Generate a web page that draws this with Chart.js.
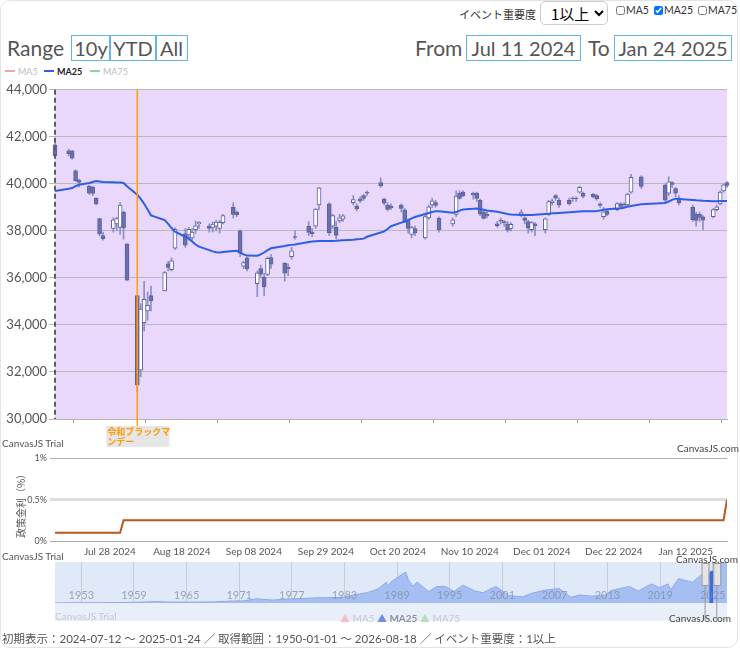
<!DOCTYPE html>
<html>
<head>
<meta charset="utf-8">
<script src="https://cdn.jsdelivr.net/npm/chart.js@4.4.1/dist/chart.umd.min.js"></script>
<style>
  body { margin: 0; background: #fff; font-family: Lato, "Noto Sans CJK JP", sans-serif; }
  #wrap { position: relative; width: 740px; height: 649px; overflow: hidden; }
  #frame { position: absolute; left: 0; top: 0; width: 736px; height: 646px; border: 1px solid #e4e4e4; border-radius: 10px; }
  .abs { position: absolute; white-space: nowrap; }
  .big { font-size: 21px; color: #555; line-height: 26px; }
  .btn { position: absolute; top: 35px; height: 24px; line-height: 24px; border: 1px solid #62b6ee; font-size: 20px; color: #555; text-align: center; }
  .cb { font-size: 10.5px; color: #333; top: 4px; }
  .cb input { width: 9px; height: 9px; margin: 0 1px 0 0; vertical-align: -1px; }
  .wm { font-size: 10px; color: #555; }
  .lg { font-size: 9px; top: 66px; }
  .lg i { display: inline-block; width: 10px; height: 2px; vertical-align: 3px; margin-right: 3px; }
  #mainBox { position: absolute; left: 0; top: 80px; width: 740px; height: 370px; }
  #rateBox { position: absolute; left: 0; top: 450px; width: 740px; height: 112px; }
  #navBox { position: absolute; left: 0; top: 562px; width: 740px; height: 59px; }
  select { position: absolute; left: 540px; top: 1px; width: 68px; height: 24px; font-size: 15px; border: 1px solid #ccc; border-radius: 5px; background: #fff; padding-left: 6px; font-family: "Noto Sans CJK JP", sans-serif; }
</style>
</head>
<body>
<div id="wrap">
  <div id="frame"></div>

  <div class="abs" style="left:459px;top:6px;font-size:11px;color:#333;">イベント重要度</div>
  <select><option>1以上</option></select>
  <label class="abs cb" style="left:616px;"><input type="checkbox">MA5</label>
  <label class="abs cb" style="left:654px;"><input type="checkbox" checked>MA25</label>
  <label class="abs cb" style="left:698px;"><input type="checkbox">MA75</label>

  <div class="abs big" style="left:7px;top:35px;">Range</div>
  <div class="btn" style="left:71px;width:38px;">10y</div>
  <div class="btn" style="left:109px;width:46px;">YTD</div>
  <div class="btn" style="left:155px;width:31px;">All</div>
  <div class="abs big" style="left:415px;top:35px;">From</div>
  <div class="btn" style="left:466px;width:113px;" id="fromBox"></div>
  <div class="abs big" style="left:588px;top:35px;">To</div>
  <div class="btn" style="left:614px;width:116px;" id="toBox"></div>

  <div class="abs lg" style="left:5px;color:#bbb;"><i style="background:#f3a3a8"></i>MA5</div>
  <div class="abs lg" style="left:44px;color:#222;font-weight:bold;"><i style="background:#2d5fe6"></i>MA25</div>
  <div class="abs lg" style="left:90px;color:#bbb;"><i style="background:#8fd0a6"></i>MA75</div>

  <div id="mainBox"><canvas id="mainChart"></canvas></div>
  <div id="rateBox"><canvas id="rateChart"></canvas></div>
  <div id="navBox"><canvas id="navChart"></canvas></div>

  <div class="abs" style="left:6px;top:470px;width:28px;height:70px;">
    <div style="position:absolute;left:-22px;top:26px;width:72px;transform:rotate(-90deg);font-size:10px;color:#555;text-align:center;font-family:'Noto Sans CJK JP';">政策金利（%）</div>
  </div>

  <div class="abs wm" style="left:2px;top:437px;">CanvasJS Trial</div>
  <div class="abs wm" style="left:677px;top:442px;color:#444;">CanvasJS.com</div>
  <div class="abs wm" style="left:2px;top:550px;">CanvasJS Trial</div>
  <div class="abs wm" style="left:676px;top:553px;color:#444;">CanvasJS.com</div>
  <div class="abs wm" style="left:55px;top:610px;color:#c3c9d4;">CanvasJS Trial</div>
  <div class="abs wm" style="left:669px;top:612px;color:#444;">CanvasJS.com</div>
  <div class="abs" style="left:340px;top:610px;font-size:10px;">
    <span style="color:#f2c1c8;">▲</span><span style="color:#c0c6d2;"> MA5 </span>
    <span style="color:#6b8fe2;"> ▲</span><span style="color:#8a90a0;font-weight:bold;"> MA25 </span>
    <span style="color:#b5dcc3;"> ▲</span><span style="color:#c0c6d2;"> MA75</span>
  </div>

  <div class="abs" style="left:2px;top:630px;font-size:11.5px;color:#555;" id="footer"></div>
</div>

<script>
// trading days shown (Nikkei 225)
const dates = [
  "2024-07-12","2024-07-16","2024-07-17","2024-07-18","2024-07-19","2024-07-22","2024-07-23","2024-07-24","2024-07-25","2024-07-26","2024-07-29","2024-07-30","2024-07-31",
  "2024-08-01","2024-08-02","2024-08-05","2024-08-06","2024-08-07","2024-08-08","2024-08-09","2024-08-13","2024-08-14","2024-08-15","2024-08-16","2024-08-19","2024-08-20","2024-08-21","2024-08-22","2024-08-23","2024-08-26","2024-08-27","2024-08-28","2024-08-29","2024-08-30",
  "2024-09-02","2024-09-03","2024-09-04","2024-09-05","2024-09-06","2024-09-09","2024-09-10","2024-09-11","2024-09-12","2024-09-13","2024-09-17","2024-09-18","2024-09-19","2024-09-20","2024-09-24","2024-09-25","2024-09-26","2024-09-27","2024-09-30",
  "2024-10-01","2024-10-02","2024-10-03","2024-10-04","2024-10-07","2024-10-08","2024-10-09","2024-10-10","2024-10-11","2024-10-15","2024-10-16","2024-10-17","2024-10-18","2024-10-21","2024-10-22","2024-10-23","2024-10-24","2024-10-25","2024-10-28","2024-10-29","2024-10-30","2024-10-31",
  "2024-11-01","2024-11-05","2024-11-06","2024-11-07","2024-11-08","2024-11-11","2024-11-12","2024-11-13","2024-11-14","2024-11-15","2024-11-18","2024-11-19","2024-11-20","2024-11-21","2024-11-22","2024-11-25","2024-11-26","2024-11-27","2024-11-28","2024-11-29",
  "2024-12-02","2024-12-03","2024-12-04","2024-12-05","2024-12-06","2024-12-09","2024-12-10","2024-12-11","2024-12-12","2024-12-13","2024-12-16","2024-12-17","2024-12-18","2024-12-19","2024-12-20","2024-12-23","2024-12-24","2024-12-25","2024-12-26","2024-12-27","2024-12-30",
  "2025-01-06","2025-01-07","2025-01-08","2025-01-09","2025-01-10","2025-01-14","2025-01-15","2025-01-16","2025-01-17","2025-01-20","2025-01-21","2025-01-22","2025-01-23","2025-01-24"
];
const open = [
  41660,41400,41400,40550,40150,39900,39850,39380,38520,37800,38100,38300,38150,
  38800,37450,35250,32080,34100,34600,35250,35450,36600,36350,37270,37870,37830,37700,38050,38300,38200,38150,38200,38100,38350,
  39000,38800,38000,36500,36850,35750,36400,36030,36150,36870,36630,36450,36900,37760,38200,37950,38200,39100,39150,
  38200,38150,38420,38500,39200,39060,39350,39500,39650,40050,39350,39100,39050,39100,38900,38450,37850,38100,37700,38550,39100,39200,
  38530,38300,38700,39600,39650,39600,39600,39300,38800,38700,38300,38450,38400,38300,38100,38700,38550,38400,38050,38300,
  38050,38700,39200,39500,39300,39300,39400,39400,39650,39600,39550,39500,39150,38600,38850,38900,39150,39050,39100,39650,40300,
  39950,39600,40050,39800,39400,39000,38700,38700,38600,38600,38900,39150,39700,40050
];
const high = [
  41740,41480,41420,40600,40200,39950,39900,39420,38530,37950,38560,38580,39200,
  38840,37450,35250,34900,35850,35400,35650,36280,36700,36850,38130,38100,38150,38100,38420,38400,38300,38380,38450,38450,38700,
  39200,38850,38050,36700,36900,36300,36550,36200,36900,37000,36650,36600,37300,38000,38390,38100,38950,39850,39200,
  38700,38400,38700,38700,39500,39150,39450,39550,39700,40250,39400,39200,39150,39150,38950,38500,38200,38200,38700,39100,39400,39300,
  38600,38550,39700,39700,39700,39650,39650,39350,38900,38850,38400,38550,38450,38400,38350,38900,38600,38450,38400,38350,
  38550,39300,39350,39550,39400,39400,39450,39450,39900,39650,39600,39550,39200,39000,38900,39200,39200,39200,39600,40400,40350,
  40000,40300,40100,39850,39500,39100,38800,38800,38650,38950,39100,39700,40000,40100
];
const low = [
  41100,41180,41050,40100,39870,39550,39500,39100,37800,37600,37950,38000,37850,
  37650,35880,31156,31800,33750,34200,34600,35450,36300,36300,37200,37300,37600,37600,37900,38100,37950,37950,38000,37900,38300,
  38550,38600,36900,36400,36300,35200,36000,35250,36100,36400,35860,36100,36800,37650,37800,37750,38100,38900,37800,
  38100,37660,38350,38400,39100,38850,39200,39300,39500,39850,39100,38850,38900,38800,38350,37900,37700,37800,37650,38500,39000,39000,
  37950,38200,38600,39350,39450,39350,39250,38650,38500,38550,38150,38300,38200,37950,38000,38600,38300,37900,37950,37800,
  37900,38650,39100,39300,39000,39100,39250,39250,39600,39400,39400,39300,39000,38500,38650,38850,38950,39000,39050,39600,39800,
  39200,39500,39850,39450,39100,38400,38200,38400,38050,38550,38850,39100,39650,39850
];
const close = [
  41190,41275,41097,40126,40063,39599,39594,39154,37869,37667,38468,38525,39101,
  38126,35909,31458,34675,35089,34831,35025,36232,36442,36726,38062,37388,38062,37951,38211,38364,38110,38288,38371,38362,38647,
  38700,38686,37047,36657,36391,36215,36159,35619,36833,36581,36203,36380,37155,37723,37940,37870,38925,39829,37919,
  38651,37808,38552,38635,39332,38937,39277,39380,39605,39910,39180,38911,38981,38954,38411,38104,38143,37913,38605,39027,39277,39081,
  38053,38474,39480,39381,39500,39533,39376,38721,38535,38642,38220,38414,38352,38026,38283,38780,38442,38134,38349,38208,
  38513,39248,39276,39395,39091,39160,39367,39372,39849,39470,39457,39364,39081,38813,38701,39161,39036,39130,39568,40281,39894,
  39307,40083,39981,39605,39190,38474,38444,38572,38451,38902,39027,39646,39958,39931
];
const ma25 = [
  39700,39790,39820,39900,39960,40040,40080,40118,40100,40080,40065,40060,40055,
  40040,39900,39540,39360,39150,38910,38660,38460,38300,38120,37970,37750,37680,37550,37420,37330,37180,37130,37090,37085,37100,
  37140,37155,37080,37000,36950,36944,37000,37080,37180,37260,37360,37390,37405,37420,37530,37550,37560,37570,37574,
  37574,37580,37590,37600,37620,37640,37650,37670,37750,37930,37980,38080,38200,38350,38400,38460,38530,38590,38720,38760,38800,38840,
  38840,38770,38800,38860,38910,38940,38950,38935,38900,38870,38812,38780,38750,38720,38700,38680,38675,38672,38675,38690,
  38720,38730,38745,38755,38765,38790,38800,38810,38820,38830,38840,38850,38870,38900,38920,38950,38960,38980,39030,39060,39130,
  39190,39250,39320,39370,39360,39318,39300,39290,39280,39263,39265,39270,39272,39275
];

// events
const eventDates = ["2024-08-05"];
const eventLabels = ["令和ブラックマンデー"];

// policy rate (%)
const rateDates = ["2024-07-12","2024-07-31","2024-08-01","2025-01-23","2025-01-24"];
const rateValues = [0.1, 0.1, 0.25, 0.25, 0.5];

// axis ticks
const tickDates = ["2024-07-28","2024-08-18","2024-09-08","2024-09-29","2024-10-20","2024-11-10","2024-12-01","2024-12-22","2025-01-12"];
const viewStart = "2024-07-12";
const viewEnd = "2025-01-24";
const fromDate = "2024-07-11";

// navigator (whole history, yearly resolution)
const navYears = [1950,1952,1953.2,1955,1957.5,1959,1961.5,1962.8,1965.5,1968,1970.3,1971.5,1973,1974.8,1976,1978,1980,1982.8,1984,1985.5,1986.8,1987.8,1987.9,1988.5,1989.99,1990.3,1990.8,1991.3,1992.6,1993.5,1994.5,1995.5,1996.5,1997.9,1998.8,1999.9,2000.3,2001.7,2003.3,2004.3,2005.9,2007.5,2008.8,2009.8,2011.2,2012.9,2013.4,2015.5,2016.5,2018,2018.95,2019.9,2020.2,2021.1,2022.7,2023.5,2024.2,2024.52,2024.6,2024.75,2025.06,2025.3,2025.5,2025.65,2025.85,2026.0,2026.3,2026.63];
const navValues = [100,360,340,420,530,800,1800,1250,1100,1400,2500,2700,5300,3700,4500,5500,6600,7000,10000,12700,17500,26000,21500,28000,38900,29000,21000,26500,14300,20500,21000,14500,22500,15000,13000,18900,20800,9500,7600,12000,16200,18200,7200,10000,8600,10400,15600,20800,15000,24000,19200,24000,16500,30500,26000,33500,40800,42200,31500,39500,39900,31100,40500,43000,52000,50300,54000,56000];
const navTickYears = [1953,1959,1965,1971,1977,1983,1989,1995,2001,2007,2013,2019,2025];

Chart.defaults.font.family = "Lato, 'Noto Sans CJK JP', sans-serif";
Chart.defaults.animation = false;

const MON = ["Jan","Feb","Mar","Apr","May","Jun","Jul","Aug","Sep","Oct","Nov","Dec"];
const parse = s => Date.UTC(+s.slice(0, 4), +s.slice(5, 7) - 1, +s.slice(8, 10));
const BASE = parse(viewStart);
const dayOf = s => (parse(s) - BASE) / 864e5;
const fmt = v => {
  const d = new Date(BASE + v * 864e5);
  return MON[d.getUTCMonth()] + " " + String(d.getUTCDate()).padStart(2, "0") + " " + d.getUTCFullYear();
};
const yearOf = s => {
  const y = +s.slice(0, 4);
  return y + (parse(s) - Date.UTC(y, 0, 1)) / (Date.UTC(y + 1, 0, 1) - Date.UTC(y, 0, 1));
};
const days = dates.map(dayOf);
const tickDays = tickDates.map(dayOf);
const endDay = dayOf(viewEnd);

document.getElementById("fromBox").textContent = fmt(dayOf(fromDate));
document.getElementById("toBox").textContent = fmt(endDay);
document.getElementById("footer").textContent =
  "初期表示：" + viewStart + " ～ " + viewEnd + " ／ 取得範囲：1950-01-01 ～ 2026-08-18 ／ イベント重要度：1以上";

// candle colors
const bodyFill = days.map((d, i) => close[i] < open[i] ? "#6a70ac" : "#ffffff");

// main chart plugin: plot background, dashed start line, event line
const mainPlugin = {
  id: "mainPlugin",
  beforeDraw(chart) {
    const { ctx, chartArea: a } = chart;
    ctx.save();
    ctx.fillStyle = "#e9d8fb";
    ctx.fillRect(a.left, a.top, a.right - a.left, a.bottom - a.top);
    ctx.restore();
  },
  afterDatasetsDraw(chart) {
    const { ctx, chartArea: a, scales: { x } } = chart;
    ctx.save();
    ctx.strokeStyle = "#5e5e5e";
    ctx.lineWidth = 2;
    ctx.setLineDash([5, 3]);
    ctx.beginPath();
    ctx.moveTo(a.left, a.top);
    ctx.lineTo(a.left, a.bottom);
    ctx.stroke();
    ctx.restore();
    eventDates.forEach((d, i) => {
      const px = x.getPixelForValue(dayOf(d));
      ctx.save();
      ctx.strokeStyle = "#ffa000";
      ctx.lineWidth = 1.5;
      ctx.beginPath();
      ctx.moveTo(px, a.top);
      ctx.lineTo(px, a.bottom + 7);
      ctx.stroke();
      // wrap label into lines that fit the box
      ctx.font = "bold 9px 'Noto Sans CJK JP'";
      const lines = [];
      let cur = "";
      for (const ch of eventLabels[i]) {
        if (ctx.measureText(cur + ch).width > 64) { lines.push(cur); cur = ch; } else cur += ch;
      }
      lines.push(cur);
      ctx.fillStyle = "#e6e6e6";
      ctx.fillRect(px - 31, a.bottom + 7, 63, lines.length * 10 + 1);
      ctx.fillStyle = "#ff9a00";
      ctx.textBaseline = "top";
      lines.forEach((t, k) => ctx.fillText(t, px - 30, a.bottom + 8 + k * 10));
      ctx.restore();
    });
  }
};

new Chart(document.getElementById("mainChart"), {
  type: "bar",
  data: {
    datasets: [
      {
        type: "line",
        label: "MA25",
        data: days.map((d, i) => ({ x: d, y: ma25[i] })),
        borderColor: "#2d5fe6",
        borderWidth: 2,
        pointRadius: 0,
        order: 1
      },
      {
        label: "body",
        data: days.map((d, i) => ({ x: d, y: [open[i], close[i]] })),
        backgroundColor: bodyFill,
        borderColor: "#5c629e",
        borderWidth: 1,
        borderSkipped: false,
        barThickness: 4,
        grouped: false,
        clip: false,
        order: 2
      },
      {
        label: "wick",
        data: days.map((d, i) => ({ x: d, y: [low[i], high[i]] })),
        backgroundColor: "#8a8fc6",
        barThickness: 1,
        grouped: false,
        clip: false,
        order: 3
      }
    ]
  },
  options: {
    responsive: true,
    maintainAspectRatio: false,
    layout: { padding: { top: 7, right: 13, left: 0, bottom: 0 } },
    plugins: { legend: { display: false }, tooltip: { enabled: false } },
    scales: {
      x: {
        type: "linear",
        min: 0,
        max: endDay,
        offset: false,
        afterBuildTicks: s => { s.ticks = tickDays.map(v => ({ value: v })); },
        afterFit: s => { s.height = 31; },
        grid: { drawOnChartArea: false, drawTicks: true, tickLength: 4, color: "#a0a0a0" },
        border: { color: "#b5b5b5" },
        ticks: { display: false }
      },
      y: {
        min: 30000,
        max: 44000,
        afterFit: s => { s.width = 55; },
        grid: { color: "#b9b9b9", tickLength: 6 },
        border: { display: false },
        ticks: {
          stepSize: 2000,
          color: "#555",
          font: { size: 13 },
          padding: 2,
          callback: v => v.toLocaleString("en-US")
        }
      }
    }
  },
  plugins: [mainPlugin]
});

// policy rate chart
new Chart(document.getElementById("rateChart"), {
  type: "line",
  data: {
    datasets: [{
      label: "政策金利",
      data: rateDates.map((d, i) => ({ x: dayOf(d), y: rateValues[i] })),
      borderColor: "#b9571c",
      borderWidth: 2,
      pointRadius: 0
    }]
  },
  options: {
    responsive: true,
    maintainAspectRatio: false,
    layout: { padding: { top: 8, right: 13 } },
    plugins: { legend: { display: false }, tooltip: { enabled: false } },
    scales: {
      x: {
        type: "linear",
        min: 0,
        max: endDay,
        afterBuildTicks: s => { s.ticks = tickDays.map(v => ({ value: v })); },
        afterFit: s => { s.height = 21; },
        grid: { display: false, drawTicks: false },
        border: { color: "#ababab" },
        ticks: { color: "#555", font: { size: 10 }, padding: 5, maxRotation: 0, autoSkip: false, callback: v => fmt(v) }
      },
      y: {
        min: 0,
        max: 1,
        afterBuildTicks: s => { s.ticks = [0, 0.5, 1].map(v => ({ value: v })); },
        afterFit: s => { s.width = 55; },
        grid: {
          color: c => c.tick && c.tick.value === 0.5 ? "#dedede" : "#b0b0b0",
          lineWidth: c => c.tick && c.tick.value === 0.5 ? 3 : 1,
          tickLength: 5
        },
        border: { display: false },
        ticks: { color: "#555", font: { size: 9 }, padding: 3, callback: v => v + "%" }
      }
    }
  }
});

// navigator
const selStart = yearOf(fromDate);
const selEnd = yearOf(viewEnd);
const navPts = navYears.map((x, i) => ({ x, y: navValues[i] }));
const navPlugin = {
  id: "navPlugin",
  beforeDraw(chart) {
    const { ctx, chartArea: a } = chart;
    ctx.save();
    ctx.fillStyle = "#dfe9f7";
    ctx.fillRect(a.left, a.top, a.right - a.left, a.bottom - a.top);
    ctx.fillStyle = "#e8eff9";
    ctx.fillRect(a.left, a.bottom, a.right - a.left, chart.height - a.bottom);
    ctx.restore();
  },
  afterDatasetsDraw(chart) {
    const { ctx, chartArea: a, scales: { x } } = chart;
    ctx.save();
    ctx.font = "11px Lato";
    ctx.fillStyle = "rgba(130,140,160,0.75)";
    ctx.textAlign = "center";
    ctx.textBaseline = "middle";
    navTickYears.forEach(yr => ctx.fillText(String(yr), x.getPixelForValue(yr), a.bottom - 8));
    // slider handles
    const h1 = x.getPixelForValue(selStart), h2 = x.getPixelForValue(selEnd);
    ctx.strokeStyle = "#9a9a9a";
    ctx.lineWidth = 1;
    [[h1 - 7, h1], [h2, h2 + 7]].forEach(([l, r]) => {
      ctx.fillStyle = "#e4e4e4";
      ctx.fillRect(l, a.top + 1, r - l, 22);
      ctx.strokeRect(l + 0.5, a.top + 1.5, r - l, 22);
      ctx.beginPath();
      ctx.moveTo((l + r) / 2, a.top + 23);
      ctx.lineTo((l + r) / 2, chart.height);
      ctx.stroke();
    });
    ctx.restore();
  }
};

new Chart(document.getElementById("navChart"), {
  type: "line",
  data: {
    datasets: [
      {
        data: navPts.filter(p => p.x >= selStart && p.x <= selEnd),
        borderColor: "#3c6de2",
        backgroundColor: "#3c6de2",
        borderWidth: 1,
        fill: "origin",
        pointRadius: 0,
        order: 1
      },
      {
        data: navPts,
        borderColor: "#8eaaee",
        backgroundColor: "#a6bff2",
        borderWidth: 1,
        fill: "origin",
        pointRadius: 0,
        order: 2
      }
    ]
  },
  options: {
    responsive: true,
    maintainAspectRatio: false,
    layout: { padding: { left: 55, right: 13, top: 0, bottom: 18 } },
    plugins: { legend: { display: false }, tooltip: { enabled: false } },
    scales: {
      x: {
        type: "linear",
        min: 1950,
        max: yearOf("2026-08-18"),
        afterBuildTicks: s => { s.ticks = navTickYears.map(v => ({ value: v })); },
        afterFit: s => { s.height = 0; },
        grid: { color: "#c4cdda", drawTicks: false },
        border: { display: false },
        ticks: { display: false }
      },
      y: { display: false, min: 0, max: 51500 }
    }
  },
  plugins: [navPlugin]
});
</script>
</body>
</html>
